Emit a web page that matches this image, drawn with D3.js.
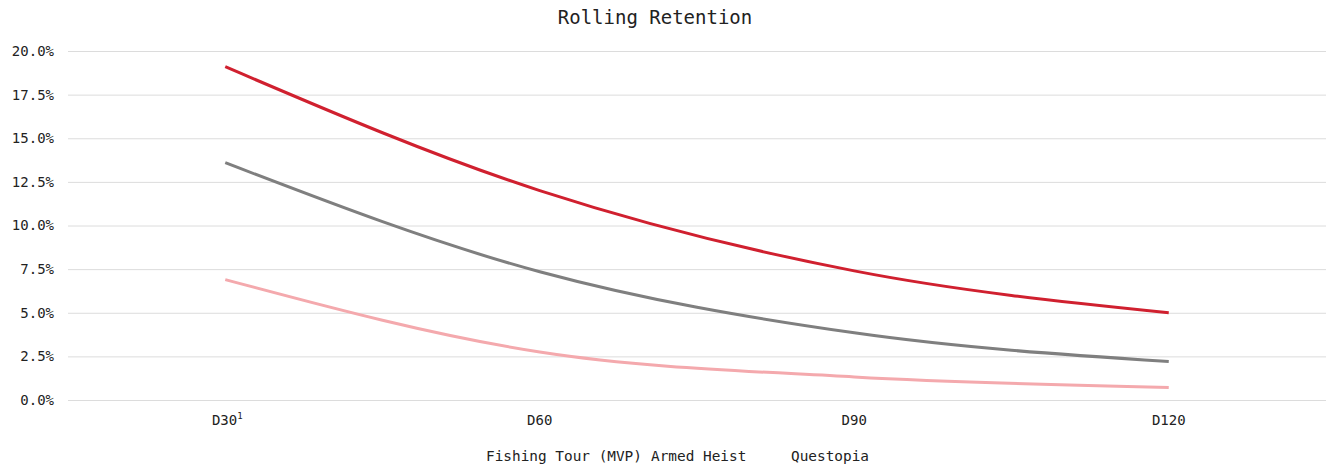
<!DOCTYPE html>
<html>
<head>
<meta charset="utf-8">
<script src="https://cdn.jsdelivr.net/npm/d3@7"></script>
<style>
  html, body { margin: 0; padding: 0; background: #fff; }
  svg { display: block; }
  text { font-family: "DejaVu Sans Mono", "Liberation Mono", monospace; fill: #222; }
</style>
</head>
<body>
<svg id="chart" width="1332" height="469"></svg>
<script>
// Rolling retention by day, per game
const categories = ["D30", "D60", "D90", "D120"];
const seriesNames = ["Fishing Tour (MVP)", "Armed Heist", "Questopia"];
const fishingTour = [19.1, 12.0, 7.4, 5.0];
const armedHeist = [13.6, 7.35, 3.85, 2.2];
const questopia = [6.9, 2.75, 1.32, 0.72];
const yTicks = [0, 2.5, 5, 7.5, 10, 12.5, 15, 17.5, 20];
const seriesColors = ["#d0202f", "#7f7f7f", "#f4a9ad"];

const series = [fishingTour, armedHeist, questopia].map((values, i) => ({
  name: seriesNames[i],
  color: seriesColors[i],
  values
}));

const svg = d3.select("#chart");
const margin = { left: 68, right: 6, top: 51, bottom: 69 };
const width = 1332, height = 469;

const x = d3.scaleBand()
  .domain(categories)
  .range([margin.left, width - margin.right])
  .paddingInner(0)
  .paddingOuter(0);

const y = d3.scaleLinear()
  .domain([0, 20])
  .range([height - margin.bottom, margin.top]);

// Title
svg.append("text")
  .attr("x", 655)
  .attr("y", 24)
  .attr("text-anchor", "middle")
  .style("font-size", "19px")
  .text("Rolling Retention");

// Horizontal gridlines
svg.append("g")
  .selectAll("line")
  .data(yTicks)
  .join("line")
  .attr("x1", margin.left)
  .attr("x2", width - margin.right)
  .attr("y1", d => y(d) + 0.5)
  .attr("y2", d => y(d) + 0.5)
  .attr("stroke", "#dcdcdc")
  .attr("stroke-width", 1);

// Y axis labels
const yAxis = svg.append("g")
  .attr("transform", `translate(${margin.left},0)`)
  .call(d3.axisLeft(y).tickValues(yTicks).tickSize(0).tickPadding(14)
    .tickFormat(d => d.toFixed(1) + "%"));
yAxis.select(".domain").remove();
yAxis.selectAll("text").style("font-size", "14px").attr("fill", "#222");

// X axis labels
const xAxis = svg.append("g")
  .attr("transform", `translate(0,${height - margin.bottom})`)
  .call(d3.axisBottom(x).tickSize(0).tickPadding(15));
xAxis.select(".domain").remove();
xAxis.selectAll("text").style("font-size", "14px").attr("fill", "#222");
// Footnote marker on the first category
xAxis.selectAll("text")
  .filter(d => d === "D30")
  .attr("dx", "2")
  .append("tspan")
  .attr("dy", "-6")
  .style("font-size", "9px")
  .text("1");

// Lines
const line = d3.line()
  .x((d, i) => x(categories[i]) + x.bandwidth() / 2)
  .y(d => y(d))
  .curve(d3.curveMonotoneX);

svg.append("g")
  .selectAll("path")
  .data(series)
  .join("path")
  .attr("d", d => line(d.values))
  .attr("fill", "none")
  .attr("stroke", d => d.color)
  .attr("stroke-width", 3)
  .attr("stroke-linejoin", "round");

// Legend
const legendX = [486, 651, 791];
svg.append("g")
  .selectAll("text")
  .data(series)
  .join("text")
  .attr("x", (d, i) => legendX[i])
  .attr("y", 461)
  .style("font-size", "14.4px")
  .text(d => d.name);
</script>
</body>
</html>
